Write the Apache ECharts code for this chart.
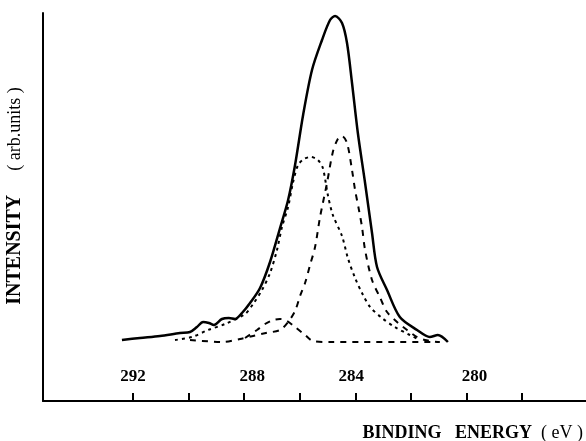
<!DOCTYPE html>
<html>
<head>
<meta charset="utf-8">
<script src="https://cdn.jsdelivr.net/npm/echarts@6/dist/echarts.min.js"></script>
<style>
html,body{margin:0;padding:0;background:#fff;}
#chart{width:586px;height:441px;}
</style>
</head>
<body>
<div id="chart"></div>
<script>
// Binding energy ticks and labels (eV)
const tickValues = [292, 290, 288, 286, 284, 282, 280, 278];
const labelValues = [292, 288, 284, 280];

// Envelope (solid)
const envelopeE = [292.40,291.75,291.03,290.31,289.95,289.70,289.48,289.27,289.09,288.80,288.55,288.33,288.08,287.79,287.43,287.07,286.71,286.42,286.17,285.88,285.56,285.20,284.91,284.73,284.48,284.30,284.12,283.91,283.65,283.40,283.22,282.86,282.40,281.78,281.32,281.03,280.67];
const envelopeI = [61,63,65,68,69,74,79,78,76,82,83,82,88,98,113,139,173,201,236,286,331,361,381,385,378,358,318,268,218,168,134,111,84,71,64,66,59];

// Main component (dashed)
const mainE = [289.95,288.76,288.15,287.68,287.22,286.71,286.42,286.17,285.99,285.81,285.63,285.45,285.27,285.02,284.81,284.63,284.48,284.30,284.12,284.01,283.87,283.76,283.65,283.40,283.12,282.86,282.50,282.14,281.78,281.50,281.03];
const mainI = [61,59,62,65,68,71,79,90,105,118,136,154,184,218,249,262,265,258,231,211,191,174,151,121,104,89,79,71,64,61,59];

// Second component (dotted)
const secondE = [290.49,289.88,289.30,288.69,287.97,287.68,287.36,287.07,286.82,286.64,286.42,286.24,286.06,285.85,285.60,285.35,285.17,284.99,284.81,284.48,284.27,284.01,283.76,283.47,283.04,282.58,282.04,281.68];
const secondI = [61,64,71,77,87,97,111,128,151,174,194,219,236,242,244,241,233,206,186,165,143,123,108,94,83,74,66,61];

// Small component (dashed) with baseline
const smallE = [287.97,287.54,287.25,286.96,286.71,286.46,286.17,285.81,285.53,284.91,283.83,282.40,280.96];
const smallI = [63,71,77,81,82,80,74,66,60,59,59,59,59];

function pairs(xs, ys) { return xs.map((x, i) => [x, ys[i]]); }

const chart = echarts.init(document.getElementById('chart'), null, {renderer: 'canvas'});
const serif = '"Liberation Serif", "DejaVu Serif", serif';

chart.setOption({
  animation: false,
  backgroundColor: '#ffffff',
  grid: {left: 43, right: 0, top: 13, bottom: 40, containLabel: false, outerBoundsMode: 'none'},
  xAxis: {
    type: 'value',
    inverse: true,
    min: 275.7,
    max: 295.24,
    name: '{b|BINDING}   {b|ENERGY}  {n|( eV )}',
    nameLocation: 'start',
    nameGap: 0,
    nameTextStyle: {
      align: 'right',
      verticalAlign: 'top',
      padding: [23, 3, 0, 0],
      fontSize: 18,
      fontFamily: serif,
      rich: {
        b: {fontFamily: serif, fontWeight: 'bold', fontSize: 18, color: '#000'},
        n: {fontFamily: serif, fontWeight: 'normal', fontSize: 18, color: '#000'}
      }
    },
    axisLine: {show: true, onZero: false, lineStyle: {color: '#000', width: 2}},
    axisTick: {show: true, inside: true, length: 8, customValues: tickValues, lineStyle: {color: '#000', width: 2}},
    axisLabel: {
      show: true,
      inside: true,
      margin: 16,
      customValues: labelValues,
      formatter: function (v) {
        if (v === 288 || v === 280) return '{r|' + v + '}';
        if (v === 284) return '{l|' + v + '}';
        return '{c|' + v + '}';
      },
      rich: {
        c: {fontFamily: serif, fontWeight: 'bold', fontSize: 17, color: '#000'},
        r: {fontFamily: serif, fontWeight: 'bold', fontSize: 17, color: '#000', padding: [0, 0, 0, 16]},
        l: {fontFamily: serif, fontWeight: 'bold', fontSize: 17, color: '#000', padding: [0, 8, 0, 0]}
      }
    },
    splitLine: {show: false}
  },
  yAxis: {
    type: 'value',
    min: 0,
    max: 388,
    name: '{b|INTENSITY}{n|( arb.units )}',
    nameLocation: 'middle',
    nameRotate: 90,
    nameGap: 18,
    nameTextStyle: {
      padding: [0, 0, 0, 22],
      fontSize: 20,
      fontFamily: serif,
      rich: {
        b: {fontFamily: serif, fontWeight: 'bold', fontSize: 20, color: '#000', padding: [0, 24, 0, 0]},
        n: {fontFamily: serif, fontWeight: 'normal', fontSize: 18, color: '#000'}
      }
    },
    axisLine: {show: true, onZero: false, lineStyle: {color: '#000', width: 2}},
    axisTick: {show: false},
    axisLabel: {show: false},
    splitLine: {show: false}
  },
  series: [
    {
      name: 'Envelope', type: 'line', data: pairs(envelopeE, envelopeI),
      smooth: 0.3, showSymbol: false, silent: true,
      lineStyle: {color: '#000', width: 2.5, type: 'solid'}
    },
    {
      name: 'Main', type: 'line', data: pairs(mainE, mainI),
      smooth: 0.3, showSymbol: false, silent: true,
      lineStyle: {color: '#000', width: 2, type: [6, 6]}
    },
    {
      name: 'Second', type: 'line', data: pairs(secondE, secondI),
      smooth: 0.3, showSymbol: false, silent: true,
      lineStyle: {color: '#000', width: 2, type: [3, 4]}
    },
    {
      name: 'Small', type: 'line', data: pairs(smallE, smallI),
      smooth: 0.3, showSymbol: false, silent: true,
      lineStyle: {color: '#000', width: 2, type: [6, 6]}
    }
  ]
});
</script>
</body>
</html>
